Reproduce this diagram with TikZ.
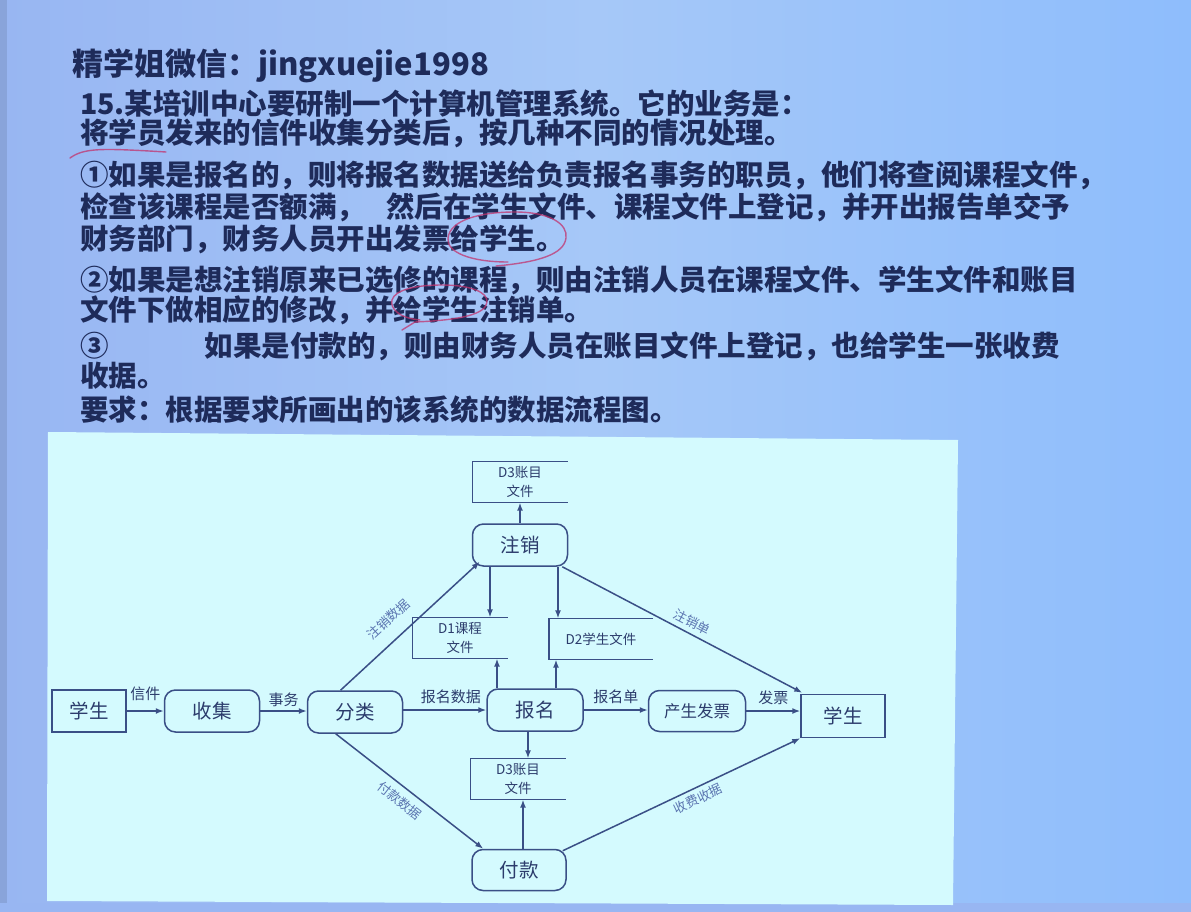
\documentclass[tikz,border=0pt]{standalone}
\usepackage{fontspec}
\newfontfamily\cjk{Noto Sans CJK SC}
\usetikzlibrary{arrows.meta,calc}
\definecolor{bgleft}{HTML}{98B6F2}
\definecolor{bgmid}{HTML}{A6C8F8}
\definecolor{bgright}{HTML}{8EBDFC}
\definecolor{panel}{HTML}{D4FAFE}
\definecolor{ink}{HTML}{1E2B5A}
\definecolor{edge}{HTML}{3A4F86}
\definecolor{nodeink}{HTML}{2C3C6C}
\definecolor{softink}{HTML}{5A74B0}
\definecolor{pen}{HTML}{C2346E}
\tikzset{
  txt/.style={anchor=base west, inner sep=0pt, text=ink,
    font={\cjk\bfseries\fontsize{28.5}{30}\selectfont}},
  proc/.style={draw=edge, line width=1.5pt, rounded corners=11pt,
    minimum width=95pt, minimum height=42pt, inner sep=0pt, text=nodeink,
    font={\cjk\fontsize{19.5}{21}\selectfont}},
  extern/.style={draw=edge, line width=1.5pt, minimum height=42pt,
    inner sep=0pt, text=nodeink, font={\cjk\fontsize{19.5}{21}\selectfont}},
  store/.style={minimum width=95pt, minimum height=41pt, inner sep=0pt,
    align=center, text=nodeink, font={\cjk\fontsize{13.5}{19}\selectfont}},
  flow/.style={draw=edge, line width=1.5pt, -{Latex[length=8pt,width=6pt]}},
  lbl/.style={text=nodeink, inner sep=1pt, font={\cjk\fontsize{15}{16}\selectfont}},
  slab/.style={text=softink, inner sep=1pt, sloped, font={\cjk\fontsize{13}{14}\selectfont}},
  penline/.style={draw=pen, line width=1.4pt, opacity=0.75, line cap=round}
}
\begin{document}
\begin{tikzpicture}[x=1pt,y=-1pt]
\useasboundingbox (0,0) rectangle (1191,912);
% slide background
\shade[left color=bgleft, right color=bgright, middle color=bgmid] (0,0) rectangle (1191,912);
\fill[bgleft!90!black!100] (0,0) rectangle (7,912);
\fill[bgleft] (0,903) rectangle (1191,912);

% question text
\node[txt, font={\cjk\bfseries\fontsize{31}{33}\selectfont}] (head) at (72,76) {精学姐微信：jingxuejie1998};
\node[txt] (l1) at (80,115) {15.某培训中心要研制一个计算机管理系统。它的业务是：};
\node[txt] (l2) at (80,144) {将学员发来的信件收集分类后，按几种不同的情况处理。};
\node[txt] (l3) at (80,186) {①如果是报名的，则将报名数据送给负责报名事务的职员，他们将查阅课程文件，};
\node[txt] (l4) at (80,218) {检查该课程是否额满，\hspace{21pt}然后在学生文件、课程文件上登记，并开出报告单交予};
\node[txt] (l5) at (80,249) {财务部门，财务人员开出发票给学生。};
\node[txt] (l6) at (80,290) {②如果是想注销原来已选修的课程，则由注销人员在课程文件、学生文件和账目};
\node[txt] (l7) at (80,320) {文件下做相应的修改，并给学生注销单。};
\node[txt] (l8) at (80,356) {③\hspace{96pt}如果是付款的，则由财务人员在账目文件上登记，也给学生一张收费};
\node[txt] (l9) at (80,386) {收据。};
\node[txt] (l10) at (80,420) {要求：根据要求所画出的该系统的数据流程图。};

% pen marks
\draw[penline] (70,158) .. controls (84,148) and (100,148) .. (166,152);
\draw[penline] (508,262) .. controls (470,262) and (446,252) .. (448,238)
  .. controls (450,220) and (480,212) .. (515,212)
  .. controls (550,212) and (568,224) .. (566,238)
  .. controls (564,254) and (540,262) .. (496,266);
\draw[penline] (420,320) .. controls (398,318) and (390,308) .. (392,300)
  .. controls (395,290) and (415,285) .. (442,285)
  .. controls (470,285) and (488,292) .. (487,302)
  .. controls (486,314) and (462,320) .. (415,322) -- (402,330);
\draw[penline] (596,510) .. controls (600,518) and (604,520) .. (612,521) -- (625,525);
\draw[penline] (617,514) -- (617,523);

% diagram panel
\fill[panel] (48,432) -- (958,440) -- (953,905) -- (47,901) -- cycle;

% processes, entities and stores
\node[extern, minimum width=74pt] (stuL) at (89,711) {学生};
\node[proc] (collect) at (212,711) {收集};
\node[proc] (sort) at (355,712) {分类};
\node[proc, minimum width=96pt] (enrol) at (535,710) {报名};
\node[proc, minimum width=97pt, minimum height=41pt,
  font={\cjk\fontsize{16.5}{18}\selectfont}] (invoice) at (697,711) {产生发票};
\node[extern, minimum width=84pt, minimum height=43pt] (stuR) at (843,716) {学生};
\node[proc] (cancel) at (520,545) {注销};
\node[proc, minimum width=94pt, minimum height=41pt] (pay) at (519,870) {付款};
\node[store] (d3a) at (520,482) {D3账目\\文件};
\node[store] (d1) at (460,638) {D1课程\\文件};
\node[store, minimum width=104pt] (d2) at (601,639) {D2学生文件};
\node[store] (d3b) at (518,779) {D3账目\\文件};
\foreach \s in {d3a,d1,d2,d3b}
  \draw[edge, line width=1.5pt] (\s.north east) -- (\s.north west) -- (\s.south west) -- (\s.south east);

% data flows along the main row
\draw[flow] (stuL.east) -- node[lbl, above=9pt] {信件} (collect.west);
\draw[flow] (collect.east) -- node[lbl, above=3pt] {事务} (collect.east -| sort.west);
\draw[flow] (sort.east |- enrol.west) -- node[lbl, above=5pt, xshift=6pt] {报名数据} (enrol.west);
\draw[flow] (enrol.east) -- node[lbl, above=5pt] {报名单} (enrol.east -| invoice.west);
\draw[flow] (invoice.east) -- node[lbl, above=5pt] {发票} (invoice.east -| stuR.west);

% flows around the cancellation process
\coordinate (sortTop) at ($(sort.north west)!0.35!(sort.north east)$);
\coordinate (sortBot) at ($(sort.south west)!0.3!(sort.south east)$);
\draw[flow] (sortTop) -- node[slab, above=12pt, pos=0.44] {注销数据} ($(cancel.south west)+(8,-5)$);
\draw[flow] (cancel.north -| d3a.south) -- (d3a.south);
\draw[flow] (cancel.south -| 490,0) -- (d1.north -| 490,0);
\draw[flow] (cancel.south -| 558,0) -- (d2.north -| 558,0);
\draw[flow] ($(cancel.south east)+(-6,0)$) -- node[slab, above=4pt, pos=0.52] {注销单} ($(stuR.north west)+(2,-1)$);

% flows of the enrolment process into the files
\draw[flow] (enrol.north -| 497,0) -- (d1.south -| 497,0);
\draw[flow] (enrol.north -| 556,0) -- (d2.south -| 556,0);
\draw[flow] (enrol.south -| 528,0) -- (d3b.north -| 528,0);

% payment flows
\draw[flow] (sortBot) -- node[slab, below=6pt, pos=0.49] {付款数据} ($(pay.north west)+(12,0)$);
\draw[flow] (pay.north -| 523,0) -- (d3b.south -| 523,0);
\draw[flow] ($(pay.north east)+(-4,2)$) -- node[slab, below=3pt, pos=0.55] {收费收据} ($(stuR.south west)+(0,0)$);
\end{tikzpicture}
\end{document}
